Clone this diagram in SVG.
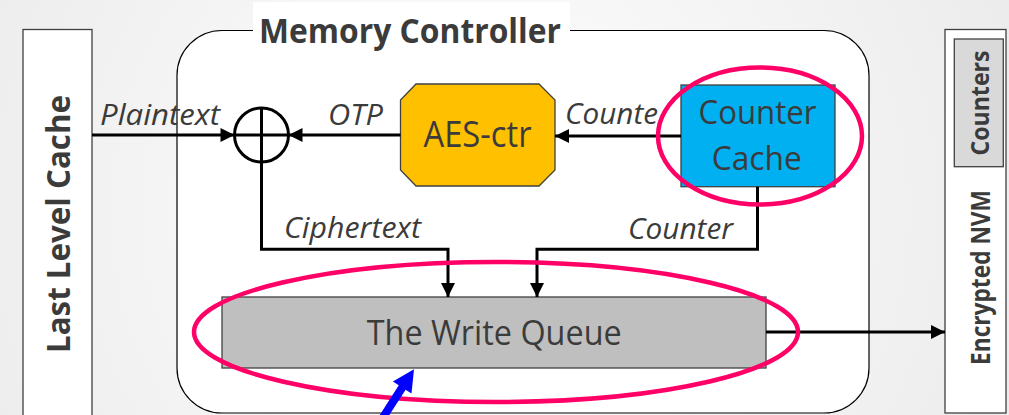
<svg xmlns="http://www.w3.org/2000/svg" width="1009" height="415" viewBox="0 0 1009 415">
  <defs>
    <radialGradient id="bg" cx="480" cy="210" r="560" gradientUnits="userSpaceOnUse">
      <stop offset="0" stop-color="#ffffff"/>
      <stop offset="1" stop-color="#ececec"/>
    </radialGradient>
    <marker id="arr" markerUnits="userSpaceOnUse" markerWidth="16" markerHeight="16" viewBox="0 0 16 16" refX="15" refY="8" orient="auto">
      <path d="M1,1 L15,8 L1,15 Z" fill="#000"/>
    </marker>
  </defs>
  <style>
    .box { stroke: #404040; stroke-width: 1.3; }
    .lbl { font-family: "Open Sans", "Noto Sans", "DejaVu Sans", sans-serif; fill: #3b3b3b; }
    .bold { font-weight: bold; }
    .it { font-style: italic; font-size: 28.5px; }
    .wire { fill: none; stroke: #000; stroke-width: 3; }
    .ring { fill: none; stroke: #ff0066; stroke-width: 4.5; }
  </style>

  <rect x="0" y="0" width="1009" height="415" fill="url(#bg)"/>

  <g id="llc">
    <rect class="box" x="23" y="29.5" width="69" height="400" fill="#ffffff"/>
    <text class="lbl bold" transform="translate(70,224) rotate(-90)" text-anchor="middle" font-size="32.6" textLength="258" lengthAdjust="spacingAndGlyphs">Last Level Cache</text>
  </g>

  <g id="memory-controller">
    <rect x="177" y="30.5" width="692" height="382.5" rx="45" ry="45" fill="#ffffff" stroke="#000" stroke-width="1.2"/>
    <rect x="253" y="2" width="317" height="40" fill="#ffffff"/>
    <text class="lbl bold" x="259" y="42.7" font-size="34" textLength="302" lengthAdjust="spacingAndGlyphs">Memory Controller</text>
  </g>

  <g id="nvm">
    <rect class="box" x="945" y="29.5" width="61" height="383.5" fill="#ffffff"/>
    <text class="lbl bold" transform="translate(990,277.5) rotate(-90)" text-anchor="middle" font-size="27.5" textLength="175" lengthAdjust="spacingAndGlyphs">Encrypted NVM</text>
  </g>

  <g id="counters">
    <rect class="box" x="954.3" y="39" width="49" height="127.7" fill="#d9d9d9"/>
    <text class="lbl bold" transform="translate(989,103) rotate(-90)" text-anchor="middle" font-size="24.5" textLength="105" lengthAdjust="spacingAndGlyphs">Counters</text>
  </g>

  <g id="xor">
    <circle cx="261.5" cy="135" r="27" fill="#ffffff" stroke="#000" stroke-width="3"/>
    <line x1="261.5" y1="108" x2="261.5" y2="162" stroke="#000" stroke-width="3"/>
    <line x1="234.5" y1="135" x2="288.5" y2="135" stroke="#000" stroke-width="3"/>
  </g>

  <g id="aes-ctr">
    <polygon class="box" points="416,84 539,84 555,100 555,170 539,186 416,186 400.5,170 400.5,100" fill="#ffc000"/>
    <text class="lbl" x="477.5" y="147.3" text-anchor="middle" font-size="36" textLength="108" lengthAdjust="spacingAndGlyphs">AES-ctr</text>
  </g>

  <g id="labels-top">
    <text class="lbl it" x="100" y="125" textLength="120" lengthAdjust="spacingAndGlyphs">Plaintext</text>
    <text class="lbl it" x="328" y="125" textLength="55" lengthAdjust="spacingAndGlyphs">OTP</text>
    <text class="lbl it" x="565" y="124" textLength="93" lengthAdjust="spacingAndGlyphs">Counte</text>
  </g>

  <g id="counter-cache">
    <rect class="box" x="681" y="85" width="154" height="101.7" fill="#00b0f0"/>
    <text class="lbl" x="757.5" y="124" text-anchor="middle" font-size="33.6" textLength="118" lengthAdjust="spacingAndGlyphs">Counter</text>
    <text class="lbl" x="756.7" y="170" text-anchor="middle" font-size="33.6" textLength="90" lengthAdjust="spacingAndGlyphs">Cache</text>
  </g>

  <g id="write-queue">
    <rect class="box" x="222" y="297" width="544" height="71" fill="#bfbfbf"/>
    <text class="lbl" x="366.7" y="345" font-size="35" textLength="255" lengthAdjust="spacingAndGlyphs">The Write Queue</text>
  </g>

  <g id="connectors">
    <line class="wire" x1="92" y1="135" x2="234.5" y2="135" marker-end="url(#arr)"/>
    <line class="wire" x1="400.5" y1="135" x2="288.5" y2="135" marker-end="url(#arr)"/>
    <line class="wire" x1="681" y1="136" x2="555" y2="136" marker-end="url(#arr)"/>
    <polyline class="wire" points="261.5,162 261.5,249.3 448,249.3 448,297" marker-end="url(#arr)"/>
    <polyline class="wire" points="757.5,186.7 757.5,249.3 537,249.3 537,297" marker-end="url(#arr)"/>
    <line class="wire" x1="766" y1="332" x2="945" y2="332" marker-end="url(#arr)"/>
    <text class="lbl it" x="284" y="238.3" textLength="137" lengthAdjust="spacingAndGlyphs">Ciphertext</text>
    <text class="lbl it" x="628" y="239.3" textLength="105" lengthAdjust="spacingAndGlyphs">Counter</text>
  </g>

  <g id="highlights">
    <ellipse class="ring" cx="760" cy="136" rx="102" ry="68.5"/>
    <ellipse class="ring" cx="496" cy="332" rx="302" ry="70"/>
    <polygon points="378.6,416.8 398.8,385.3 392.9,381.6 414,369.3 411.5,393.4 405.6,389.7 385.4,421.2" fill="#0000ff"/>
  </g>
</svg>
